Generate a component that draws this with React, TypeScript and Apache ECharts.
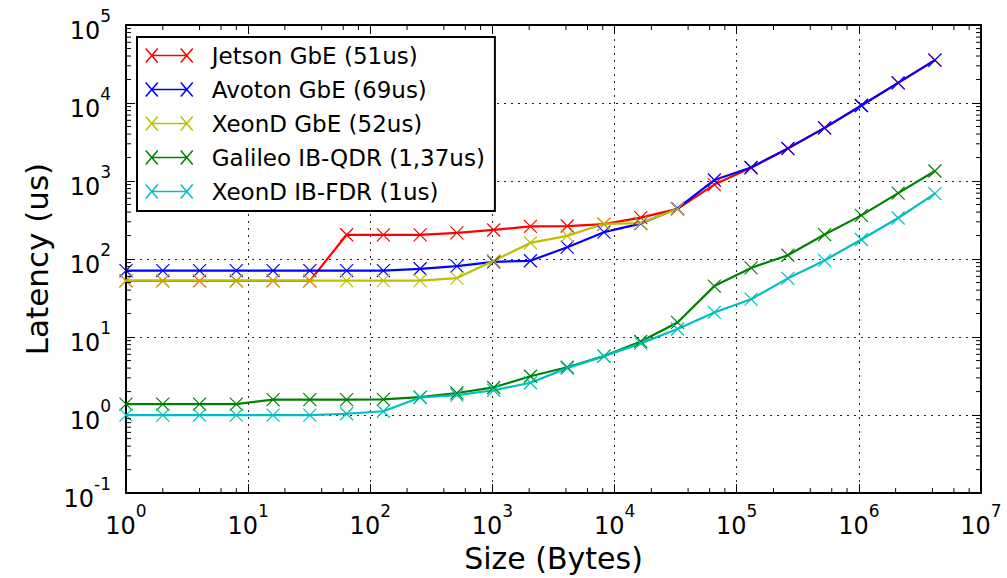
import React, { useEffect, useRef } from "react";
import * as echarts from "echarts";

// Message sizes (Bytes): 2^0 .. 2^22
const SIZES = [
  1, 2, 4, 8, 16, 32, 64, 128, 256, 512, 1024, 2048, 4096, 8192, 16384, 32768,
  65536, 131072, 262144, 524288, 1048576, 2097152, 4194304,
];

// Latency (us)
const JETSON_GBE = [
  52.5, 52.5, 52.5, 52.5, 52.5, 52.5, 205, 204, 204, 217, 236, 262, 265, 280,
  340, 440, 900, 1480, 2600, 4800, 9300, 18100, 35500,
];
const AVOTON_GBE = [
  71, 71, 71, 71, 71, 71, 71, 71, 75, 81, 92, 95, 142, 221, 285, 445, 1030,
  1490, 2620, 4800, 9300, 18100, 35500,
];
const XEOND_GBE = [53, 53, 53, 53, 53, 53, 53, 53, 53, 57, 95, 161, 198, 283, 289, 440];
const GALILEO_IB_QDR = [
  1.38, 1.38, 1.38, 1.38, 1.58, 1.58, 1.58, 1.59, 1.7, 1.92, 2.26, 3.15, 4.1,
  5.7, 8.8, 15.4, 45, 77, 112, 206, 363, 700, 1345,
];
const XEOND_IB_FDR = [
  1.0, 1.0, 1.0, 1.0, 1.0, 1.0, 1.04, 1.12, 1.68, 1.8, 2.08, 2.6, 4.0, 5.7,
  8.3, 12.7, 20.7, 30.6, 56.6, 96, 178, 336, 690,
];

const SERIES_NAMES = [
  "Jetson GbE (51us)",
  "Avoton GbE (69us)",
  "XeonD GbE (52us)",
  "Galileo IB-QDR (1,37us)",
  "XeonD IB-FDR (1us)",
];
const SERIES_COLORS = ["#ff0000", "#0000ff", "#bfbf00", "#008000", "#00bfbf"];
const SERIES_VALUES = [JETSON_GBE, AVOTON_GBE, XEOND_GBE, GALILEO_IB_QDR, XEOND_IB_FDR];

// Axis ranges and tick positions
const X_MIN = 1;
const X_MAX = 1e7;
const Y_MIN = 0.1;
const Y_MAX = 1e5;
const X_DECADES = [1, 10, 100, 1000, 10000, 100000, 1000000];
const X_MINOR_SUBS = [2, 4, 6, 8];
const Y_DECADES = [0.1, 1, 10, 100, 1000, 10000];
const Y_MINOR_SUBS = [2, 3, 4, 5, 6, 7, 8, 9];

const FONT = "DejaVu Sans";
const X_SYMBOL = "path://M0,0L10,10M10,0L0,10";
const LEGEND_ICON = "path://M0,0L12,14M12,0L0,14M6,7L41,7M35,0L47,14M47,0L35,14";

const xMinor: number[] = [];
X_DECADES.forEach((d) => X_MINOR_SUBS.forEach((s) => xMinor.push(d * s)));
const yMinor: number[] = [];
Y_DECADES.forEach((d) => Y_MINOR_SUBS.forEach((s) => yMinor.push(d * s)));

const labelFormatter = (v: number) => {
  const e = Math.round(Math.log10(v));
  return `{b|10}{s|${e}}`;
};
const richLabel = {
  b: { fontSize: 24, fontFamily: FONT, color: "#000", lineHeight: 36, verticalAlign: "bottom" },
  s: { fontSize: 17, fontFamily: FONT, color: "#000", lineHeight: 17, verticalAlign: "top" },
};

const gridLine = { show: true, lineStyle: { color: "#222", width: 1, type: [2, 5] } };
const axisLine = { show: true, onZero: false, lineStyle: { color: "#000", width: 2 } };
const majorTick = { show: true, inside: true, length: 9, lineStyle: { color: "#000", width: 1 } };

export default function App() {
  const ref = useRef<HTMLDivElement>(null);
  useEffect(() => {
    if (!ref.current) return;
    const chart = echarts.init(ref.current, undefined, { renderer: "svg" });
    const lineSeries = SERIES_NAMES.map((name, i) => ({
      name,
      type: "line",
      xAxisIndex: 0,
      yAxisIndex: 0,
      data: SERIES_VALUES[i].map((v, k) => [SIZES[k], v]),
      symbol: X_SYMBOL,
      symbolSize: 13,
      showAllSymbol: true,
      lineStyle: { color: SERIES_COLORS[i], width: 2.2 },
      itemStyle: { color: SERIES_COLORS[i], borderColor: SERIES_COLORS[i], borderWidth: 1.2 },
      emphasis: { disabled: true },
      silent: true,
      z: 3,
    }));
    const tickStyle = { stroke: "#000", lineWidth: 1 };
    const option: any = {
      animation: false,
      backgroundColor: "#fff",
      grid: { left: 126, right: 26, top: 25, bottom: 81, containLabel: false },
      legend: {
        data: SERIES_NAMES.map((n) => ({ name: n, icon: LEGEND_ICON })),
        orient: "vertical",
        left: 137,
        top: 37,
        padding: [7, 10, 8, 8],
        itemGap: 11,
        itemWidth: 47,
        itemHeight: 14,
        backgroundColor: "#fff",
        borderColor: "#000",
        borderWidth: 2,
        borderRadius: 0,
        itemStyle: { borderWidth: 1.5 },
        textStyle: { fontFamily: FONT, fontSize: 23, color: "#000", padding: [0, 0, 0, 14] },
        selectedMode: false,
        z: 10,
      },
      xAxis: [
        {
          type: "log",
          logBase: 10,
          min: X_MIN,
          max: X_MAX,
          interval: 1,
          position: "bottom",
          axisLine,
          axisTick: majorTick,
          axisLabel: { formatter: labelFormatter, rich: richLabel, margin: 9 },
          splitLine: gridLine,
          name: "Size (Bytes)",
          nameLocation: "middle",
          nameGap: 44,
          nameTextStyle: { fontFamily: FONT, fontSize: 30, color: "#000" },
        },
        {
          type: "log",
          logBase: 10,
          min: X_MIN,
          max: X_MAX,
          interval: 1,
          position: "top",
          axisLine,
          axisTick: majorTick,
          axisLabel: { show: false },
          splitLine: { show: false },
        },
      ],
      yAxis: [
        {
          type: "log",
          logBase: 10,
          min: Y_MIN,
          max: Y_MAX,
          interval: 1,
          position: "left",
          axisLine,
          axisTick: majorTick,
          axisLabel: { formatter: labelFormatter, rich: richLabel, margin: 15 },
          splitLine: gridLine,
          name: "Latency (us)",
          nameLocation: "middle",
          nameGap: 72,
          nameTextStyle: { fontFamily: FONT, fontSize: 31, color: "#000" },
        },
        {
          type: "log",
          logBase: 10,
          min: Y_MIN,
          max: Y_MAX,
          interval: 1,
          position: "right",
          axisLine,
          axisTick: majorTick,
          axisLabel: { show: false },
          splitLine: { show: false },
        },
      ],
      series: [
        {
          type: "custom",
          name: "xMinorTicks",
          xAxisIndex: 0,
          yAxisIndex: 0,
          silent: true,
          z: 4,
          data: xMinor.map((v) => [v, Y_MIN]),
          renderItem: (_p: any, api: any) => {
            const v = api.value(0);
            const b = api.coord([v, Y_MIN]);
            const t = api.coord([v, Y_MAX]);
            return {
              type: "group",
              children: [
                { type: "line", shape: { x1: b[0], y1: b[1], x2: b[0], y2: b[1] - 5 }, style: tickStyle },
                { type: "line", shape: { x1: t[0], y1: t[1], x2: t[0], y2: t[1] + 5 }, style: tickStyle },
              ],
            };
          },
        },
        {
          type: "custom",
          name: "yMinorTicks",
          xAxisIndex: 0,
          yAxisIndex: 0,
          silent: true,
          z: 4,
          data: yMinor.map((v) => [X_MIN, v]),
          renderItem: (_p: any, api: any) => {
            const v = api.value(1);
            const l = api.coord([X_MIN, v]);
            const r = api.coord([X_MAX, v]);
            return {
              type: "group",
              children: [
                { type: "line", shape: { x1: l[0], y1: l[1], x2: l[0] + 5, y2: l[1] }, style: tickStyle },
                { type: "line", shape: { x1: r[0], y1: r[1], x2: r[0] - 5, y2: r[1] }, style: tickStyle },
              ],
            };
          },
        },
        ...lineSeries,
      ],
    };
    chart.setOption(option);
    return () => chart.dispose();
  }, []);
  return (
    <div
      ref={ref}
      style={{ position: "absolute", left: 0, top: 0, width: 1007, height: 578, background: "#fff" }}
    />
  );
}
